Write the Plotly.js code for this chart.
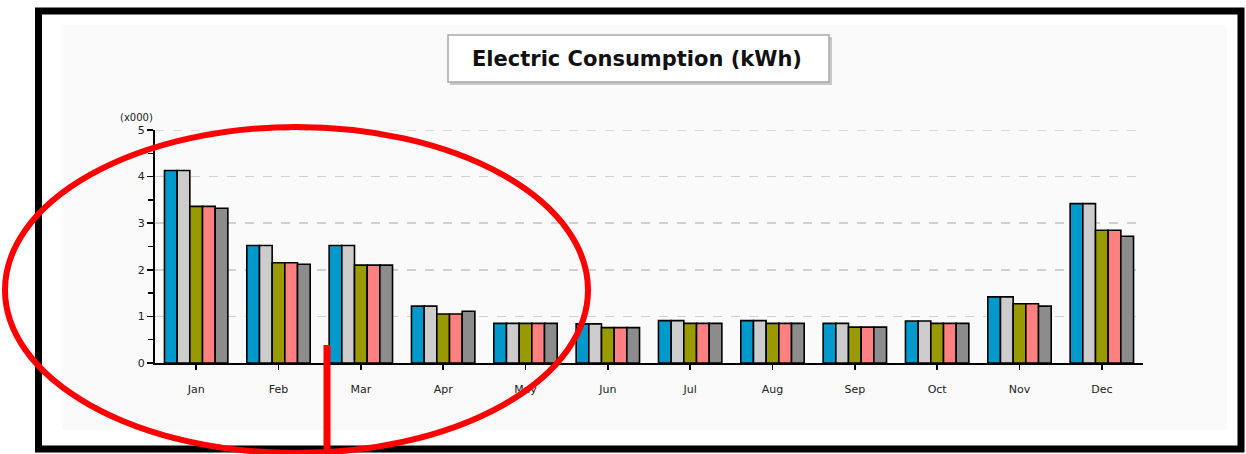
<!DOCTYPE html>
<html>
<head>
<meta charset="utf-8">
<script src="https://cdn.plot.ly/plotly-3.0.1.min.js"></script>
<style>html,body{margin:0;padding:0;background:#fff;}#chart{width:1246px;height:454px;}</style>
</head>
<body>
<div id="chart"></div>
<script>
const months = ["Jan","Feb","Mar","Apr","May","Jun","Jul","Aug","Sep","Oct","Nov","Dec"];
const seriesNames = ["Series 1","Series 2","Series 3","Series 4","Series 5"];
const series1 = [4.13, 2.52, 2.52, 1.22, 0.85, 0.84, 0.91, 0.91, 0.85, 0.90, 1.42, 3.42];
const series2 = [4.13, 2.52, 2.52, 1.22, 0.85, 0.84, 0.91, 0.91, 0.85, 0.90, 1.42, 3.42];
const series3 = [3.36, 2.15, 2.10, 1.05, 0.85, 0.76, 0.85, 0.85, 0.77, 0.85, 1.27, 2.85];
const series4 = [3.36, 2.15, 2.10, 1.05, 0.85, 0.76, 0.85, 0.85, 0.77, 0.85, 1.27, 2.85];
const series5 = [3.32, 2.12, 2.10, 1.11, 0.85, 0.76, 0.85, 0.85, 0.77, 0.85, 1.22, 2.72];
const yTickVals = [0,1,2,3,4,5];
const yTickText = ["0","1","2","3","4","5"];
const yMax = 5;
const colors = ["#0099cc","#cccccc","#999900","#ff8080","#8c8c8c"];

const allSeries = [series1, series2, series3, series4, series5];
const traces = allSeries.map((vals, i) => ({
  type: "bar",
  x: months,
  y: vals,
  name: seriesNames[i],
  marker: {color: colors[i], line: {color: "#000", width: 1.6}},
  hoverinfo: "x+y"
}));

// pixel -> paper helpers (plot area: x 155..1143, y 130..363)
const L = 155, R = 1143, T = 130, B = 363;
const px = x => (x - L) / (R - L);
const py = y => (B - y) / (B - T);

const layout = {
  width: 1246, height: 454,
  margin: {l: L, r: 1246 - R, t: T, b: 454 - B, pad: 0},
  paper_bgcolor: "#ffffff",
  plot_bgcolor: "rgba(0,0,0,0)",
  showlegend: false,
  barmode: "group",
  bargap: 0.23,
  bargroupgap: 0,
  font: {family: "DejaVu Sans, Verdana, sans-serif", color: "#222"},
  xaxis: {
    type: "category",
    range: [-0.5, 11.5],
    showline: true, linecolor: "#000", linewidth: 2,
    ticks: "outside", ticklen: 5, tickwidth: 1.5, tickcolor: "#000",
    tickfont: {size: 11, color: "#222"},
    ticklabelstandoff: 10,
    showgrid: false, zeroline: false, fixedrange: true
  },
  yaxis: {
    range: [0, yMax],
    tickvals: yTickVals, ticktext: yTickText,
    showline: true, linecolor: "#000", linewidth: 2,
    ticks: "outside", ticklen: 6, tickwidth: 1.5, tickcolor: "#000",
    minor: {dtick: 0.5, ticks: "outside", ticklen: 5, tickwidth: 1.5, tickcolor: "#000", showgrid: false},
    tickfont: {size: 11, color: "#222"},
    showgrid: true, gridcolor: "#d0d0d0", gridwidth: 1.5, griddash: "dash",
    zeroline: false, fixedrange: true
  },
  shapes: [
    {type: "rect", xref: "paper", yref: "paper", layer: "below",
     x0: px(62), x1: px(1227), y0: py(430), y1: py(25),
     fillcolor: "#fafafa", line: {width: 0}},
    {type: "line", xref: "paper", yref: "y", layer: "below",
     x0: 0, x1: 1, y0: yMax, y1: yMax,
     line: {color: "#d0d0d0", width: 1.5, dash: "dash"}},
    {type: "rect", xref: "paper", yref: "paper", layer: "below",
     x0: px(450), x1: px(832), y0: py(85), y1: py(37),
     fillcolor: "#c8c8c8", line: {width: 0}},
    {type: "rect", xref: "paper", yref: "paper", layer: "below",
     x0: px(448), x1: px(829), y0: py(82), y1: py(35),
     fillcolor: "#ffffff", line: {color: "#a8a8a8", width: 1.5}},
    {type: "rect", xref: "paper", yref: "paper", layer: "above",
     x0: px(38.5), x1: px(1241), y0: py(449), y1: py(11),
     fillcolor: "rgba(0,0,0,0)", line: {color: "#000", width: 7}},
    {type: "circle", xref: "paper", yref: "paper", layer: "above",
     x0: px(5), x1: px(588), y0: py(453), y1: py(127),
     fillcolor: "rgba(0,0,0,0)", line: {color: "#ff0000", width: 6}},
    {type: "line", xref: "paper", yref: "paper", layer: "above",
     x0: px(327), x1: px(327), y0: py(345), y1: py(456),
     line: {color: "#ff0000", width: 7}}
  ],
  annotations: [
    {xref: "paper", yref: "paper", x: px(637), y: py(59),
     text: "<b>Electric Consumption (kWh)</b>", showarrow: false,
     xanchor: "center", yanchor: "middle",
     font: {size: 21, color: "#111", family: "DejaVu Sans, Verdana, sans-serif"}},
    {xref: "paper", yref: "paper", x: px(136), y: py(117),
     text: "(x000)", showarrow: false, xanchor: "center", yanchor: "middle",
     font: {size: 10, color: "#222"}}
  ]
};

Plotly.newPlot("chart", traces, layout, {staticPlot: true, displayModeBar: false});
</script>
</body>
</html>
